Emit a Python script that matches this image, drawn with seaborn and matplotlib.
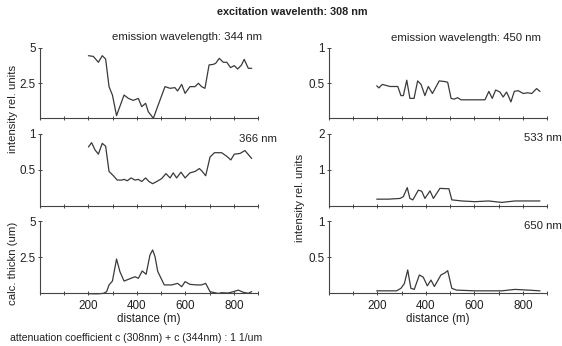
import matplotlib
matplotlib.use("Agg")
import matplotlib.pyplot as plt
import seaborn as sns
import pandas as pd

# ---- data ----
d344 = [200,220,241,257,271,285,299,316,347,365,385,406,420,436,447,468,488,516,537,557,568,585,599,619,640,654,667,681,698,715,725,740,757,771,787,802,816,832,843,860,874]
v344 = [4.45,4.4,3.98,4.45,4.21,2.24,1.64,0.17,1.64,1.40,1.26,1.40,0.81,1.05,0.45,-0.02,0.93,2.24,2.12,2.17,1.93,2.40,1.76,2.24,2.24,2.48,2.24,2.12,3.79,3.83,3.9,4.26,3.98,3.98,3.6,3.74,3.5,3.79,4.19,3.55,3.55]

d366 = [200,213,227,241,257,271,285,303,319,337,348,360,376,392,406,420,436,450,465,482,502,520,537,550,564,582,599,619,640,658,670,684,702,720,750,771,788,802,826,846,874]
v366 = [0.82,0.88,0.78,0.72,0.87,0.83,0.48,0.42,0.36,0.36,0.37,0.35,0.39,0.36,0.37,0.34,0.39,0.34,0.31,0.34,0.38,0.45,0.39,0.46,0.39,0.47,0.39,0.46,0.48,0.52,0.48,0.42,0.68,0.74,0.74,0.69,0.64,0.72,0.73,0.77,0.66]

dthk = [200,234,261,275,285,299,316,330,347,365,392,406,422,438,454,465,475,486,513,544,568,585,599,619,647,667,684,702,736,750,777,800,819,839,860,874]
vthk = [-0.05,-0.06,-0.03,0.09,0.56,0.83,2.36,1.48,0.83,0.95,1.13,1.02,1.53,1.3,2.64,2.99,2.52,1.5,0.56,0.56,0.67,0.44,0.79,0.6,0.56,0.56,0.67,0.09,-0.03,0.02,0.0,0.1,0.2,0.05,-0.02,0.1]

d450 = [197,206,220,252,284,297,307,321,334,351,366,380,396,410,427,455,479,490,504,517,531,545,589,644,660,674,688,706,719,733,740,751,765,781,802,820,837,857,871]
v450 = [0.46,0.43,0.48,0.45,0.45,0.32,0.32,0.54,0.28,0.28,0.53,0.48,0.32,0.45,0.35,0.53,0.52,0.51,0.28,0.27,0.29,0.26,0.26,0.26,0.38,0.28,0.40,0.37,0.30,0.37,0.32,0.23,0.38,0.39,0.35,0.36,0.35,0.42,0.38]

d533 = [197,245,293,307,323,334,346,369,383,396,417,431,458,486,495,507,548,603,658,713,768,823,871]
v533 = [0.19,0.19,0.21,0.26,0.51,0.21,0.17,0.44,0.41,0.21,0.42,0.21,0.49,0.48,0.48,0.17,0.14,0.12,0.14,0.10,0.14,0.14,0.14]

d650 = [197,245,279,297,311,325,338,352,373,389,406,421,435,462,479,490,507,527,603,713,768,823,871]
v650 = [0.03,0.03,0.03,0.065,0.13,0.32,0.065,0.05,0.25,0.22,0.10,0.18,0.09,0.25,0.28,0.31,0.065,0.04,0.03,0.03,0.05,0.04,0.03]

xtick_vals = list(range(0, 901, 100))
xtick_labelled = [200, 400, 600, 800]

panels = [
    # (x, y, ylim, yticks, yticklabels, position in px)
    (d344, v344, 5, [2.5, 5], ["2.5", "5"], [40, 48, 218, 70]),
    (d366, v366, 1, [0.5, 1], ["0.5", "1"], [40, 134, 218, 72]),
    (dthk, vthk, 5, [2.5, 5], ["2.5", "5"], [40, 221, 218, 72]),
    (d450, v450, 1, [0.5, 1], ["0.5", "1"], [329, 48, 218, 70]),
    (d533, v533, 2, [1, 2], ["1", "2"], [329, 134, 218, 72]),
    (d650, v650, 1, [0.5, 1], ["0.5", "1"], [329, 221, 218, 72]),
]

sns.set_theme(style="ticks")
plt.rcParams["font.family"] = ["Liberation Sans", "DejaVu Sans"]
TXT = "#222222"
LINE = "#3a3a3a"
FS = 8.4

W, H = 562, 346
fig = plt.figure(figsize=(W / 100, H / 100), dpi=100)
fig.patch.set_facecolor("white")

axes = []
for i, (xs, ys, ytop, yt, ytl, (px, py, pw, ph)) in enumerate(panels):
    ax = fig.add_axes([px / W, 1 - (py + ph) / H, pw / W, ph / H])
    df = pd.DataFrame({"distance": xs, "value": ys})
    sns.lineplot(data=df, x="distance", y="value", ax=ax, color=LINE,
                 linewidth=0.9, estimator=None, sort=False, clip_on=False)
    ax.set_xlim(0, 900)
    ax.set_ylim(0, ytop)
    ax.set_yticks(yt)
    ax.set_yticklabels(ytl)
    ax.set_xticks(xtick_vals)
    bottom = i in (2, 5)
    ax.set_xticklabels([str(v) if (bottom and v in xtick_labelled) else "" for v in xtick_vals])
    ax.set_xlabel("distance (m)" if bottom else "", fontsize=8.3, color=TXT, labelpad=1)
    ax.set_ylabel("")
    for s in ("top", "right"):
        ax.spines[s].set_visible(False)
    for s in ("left", "bottom"):
        ax.spines[s].set_color("#444444")
        ax.spines[s].set_linewidth(0.8)
    ax.tick_params(axis="both", direction="inout", length=3, width=0.7,
                   color="#444444", labelsize=FS, labelcolor=TXT, pad=1.5)
    ax.tick_params(axis="x", pad=3.5)
    ax.set_facecolor("white")
    axes.append(ax)

def ftext(x, y, s, **kw):
    fig.text(x / W, 1 - y / H, s, color=TXT, **kw)

ftext(292, 12, "excitation wavelenth: 308 nm", fontsize=7.8, fontweight="bold", ha="center", va="center")
ftext(187, 37, "emission wavelength: 344 nm", fontsize=8.2, ha="center", va="center")
ftext(277, 139, "366 nm", fontsize=8.2, ha="right", va="center")
ftext(466, 38, "emission wavelength: 450 nm", fontsize=8.2, ha="center", va="center")
ftext(562, 138, "533 nm", fontsize=8.2, ha="right", va="center")
ftext(562, 226, "650 nm", fontsize=8.2, ha="right", va="center")
ftext(13, 109, "intensity rel. units", fontsize=8.2, rotation=90, ha="center", va="center")
ftext(13, 263, "calc. thickn (um)", fontsize=8.2, rotation=90, ha="center", va="center")
ftext(300, 198, "intensity rel. units", fontsize=8.2, rotation=90, ha="center", va="center")
ftext(10, 338, "attenuation coefficient c (308nm) + c (344nm) : 1 1/um", fontsize=7.6, ha="left", va="center")

fig.savefig("out.png", dpi=100, facecolor="white")
